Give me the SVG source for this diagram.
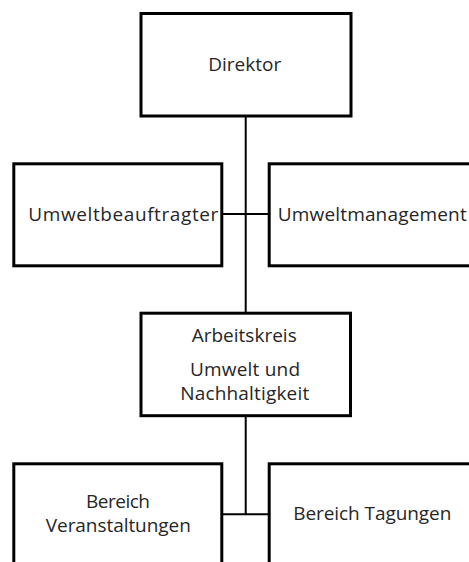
<svg xmlns="http://www.w3.org/2000/svg" width="469" height="562" viewBox="0 0 469 562">
<style>
.box{fill:#fff;stroke:#000;stroke-width:3}
.conn{fill:none;stroke:#000;stroke-width:2}
.lbl{font-family:"Open Sans","Noto Sans","Liberation Sans",sans-serif;font-size:19px;fill:#262626}
.m{text-anchor:middle}
</style>
<rect width="469" height="562" fill="#fff"/>
<g id="connectors">
<line class="conn" x1="245.7" y1="116" x2="245.7" y2="514.3"/>
<line class="conn" x1="222" y1="214" x2="269" y2="214"/>
<line class="conn" x1="222" y1="514.3" x2="269" y2="514.3"/>
</g>
<g id="direktor">
<rect class="box" x="141" y="13.5" width="210" height="102.5"/>
<text class="lbl m" x="244.7" y="70.7" textLength="73">Direktor</text>
</g>
<g id="umweltbeauftragter">
<rect class="box" x="13.8" y="163.8" width="208" height="102"/>
<text class="lbl m" x="123.3" y="220.7" textLength="190">Umweltbeauftragter</text>
</g>
<g id="umweltmanagement">
<rect class="box" x="269.2" y="163.8" width="210" height="102"/>
<text class="lbl" x="277.7" y="220.7" textLength="189">Umweltmanagement</text>
</g>
<g id="arbeitskreis">
<rect class="box" x="141" y="313.2" width="209.5" height="102.5"/>
<text class="lbl m" x="244.2" y="341.7" textLength="105">Arbeitskreis</text>
<text class="lbl m" x="245" y="376" textLength="110">Umwelt und</text>
<text class="lbl m" x="244.7" y="399.5" textLength="129">Nachhaltigkeit</text>
</g>
<g id="veranstaltungen">
<rect class="box" x="13.8" y="463.8" width="208" height="120"/>
<text class="lbl m" x="118" y="508.3" textLength="64">Bereich</text>
<text class="lbl m" x="118.3" y="531.7" textLength="145">Veranstaltungen</text>
</g>
<g id="tagungen">
<rect class="box" x="269.2" y="463.8" width="210" height="120"/>
<text class="lbl" x="293.3" y="520" textLength="158">Bereich Tagungen</text>
</g>
</svg>
